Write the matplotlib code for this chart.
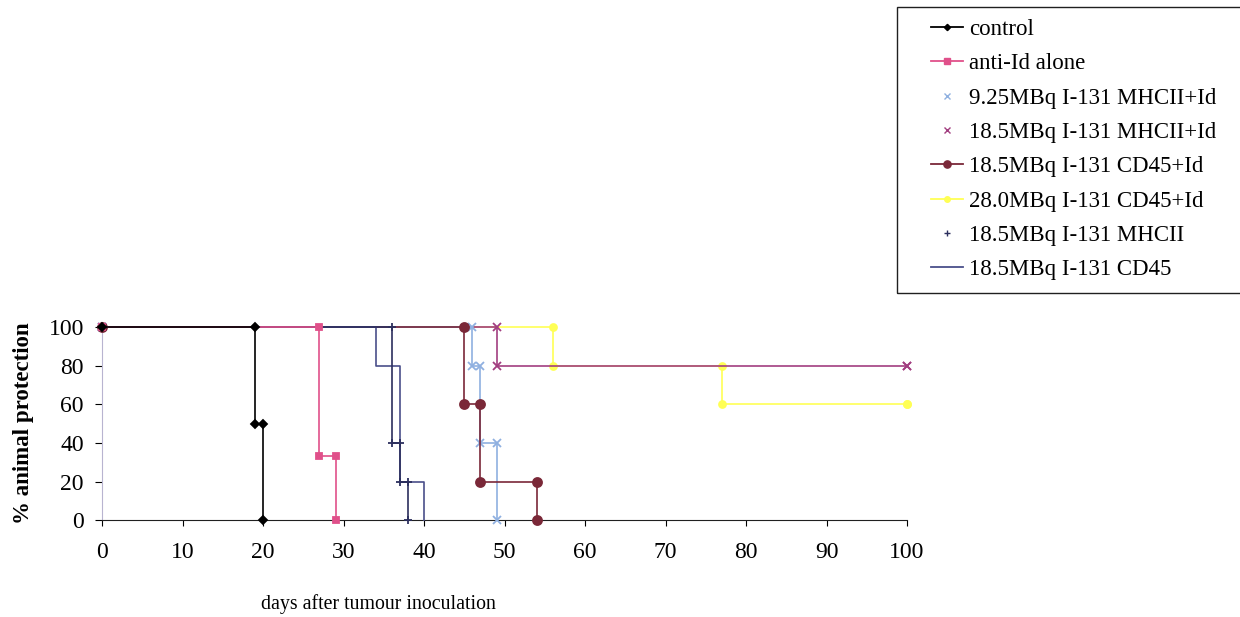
import numpy as np
import matplotlib
matplotlib.use("Agg")
import matplotlib.pyplot as plt
from matplotlib.lines import Line2D
from matplotlib.patches import Rectangle

plt.rcParams['font.family'] = ['Liberation Serif', 'DejaVu Serif']

# survival data: day of each event and % animals surviving after it
labels = ["control", "anti-Id alone", "9.25MBq I-131 MHCII+Id",
          "18.5MBq I-131 MHCII+Id", "18.5MBq I-131 CD45+Id",
          "28.0MBq I-131 CD45+Id", "18.5MBq I-131 MHCII", "18.5MBq I-131 CD45"]
control_days = [0, 19, 20]
control_surv = [100, 50, 0]
antiid_days = [0, 27, 29]
antiid_surv = [100, 33, 0]
mhc925_days = [0, 46, 47, 49]
mhc925_surv = [100, 80, 40, 0]
mhc185id_days = [0, 49, 100]
mhc185id_surv = [100, 80, 80]
cd185id_days = [0, 45, 47, 54]
cd185id_surv = [100, 60, 20, 0]
cd280id_days = [0, 56, 77, 100]
cd280id_surv = [100, 80, 60, 60]
mhc185_days = [0, 36, 37, 38]
mhc185_surv = [100, 40, 20, 0]
cd185_days = [0, 34, 37, 40]
cd185_surv = [100, 80, 20, 0]

series = [(control_days, control_surv), (antiid_days, antiid_surv),
          (mhc925_days, mhc925_surv), (mhc185id_days, mhc185id_surv),
          (cd185id_days, cd185id_surv), (cd280id_days, cd280id_surv),
          (mhc185_days, mhc185_surv), (cd185_days, cd185_surv)]

colors = ["#000000", "#e0508a", "#8fb0e0", "#a23e80", "#7a2838",
          "#ffff55", "#2c2f5e", "#4a4f8a"]
markers = ["D", "s", "x", "x", "o", "o", "+", None]
msizes = [4, 5, 6, 6, 6.5, 5, 6, 0]
leg_line = [True, True, False, False, True, True, False, True]


def km_corners(days, surv):
    # corner points of a Kaplan-Meier style step curve
    xs, ys = [days[0]], [surv[0]]
    for i in range(1, len(days)):
        xs += [days[i], days[i]]
        ys += [surv[i - 1], surv[i]]
    return np.array(xs), np.array(ys)


fig = plt.figure(figsize=(12.4, 6.17), dpi=100)
ax = fig.add_axes([0.0823, 0.157, 0.6492, 0.313])

order = [5, 3, 2, 4, 7, 6, 1, 0]
for i in order:
    d, s = series[i]
    x, y = km_corners(d, s)
    ax.plot(x, y, color=colors[i], lw=1.2, marker=markers[i],
            markersize=msizes[i], markeredgewidth=1.3, clip_on=False,
            zorder=3)

ax.set_xlim(0, 100)
ax.set_ylim(0, 100)
ax.set_xticks(np.arange(0, 101, 10))
ax.set_yticks(np.arange(0, 101, 20))
ax.tick_params(axis='x', direction='out', length=4, width=0.8, pad=12,
               labelsize=17)
ax.tick_params(axis='y', direction='out', length=5, width=0.8, pad=8,
               labelsize=17)
for side in ['top', 'right']:
    ax.spines[side].set_visible(False)
ax.spines['left'].set_color('#b8b4d0')
ax.spines['bottom'].set_color('#202020')

ax.set_ylabel("% animal protection", fontsize=16.5, fontweight='bold')
ax.yaxis.set_label_coords(-0.085, 0.5)
ax.set_xlabel("days after tumour inoculation", fontsize=14.3)
ax.xaxis.set_label_coords(0.343, -0.385)

# legend box runs off the right edge of the figure
fig.patches.append(Rectangle((897 / 1240, 1 - 293 / 617), 0.3, 286 / 617,
                             transform=fig.transFigure, fill=False,
                             edgecolor='#202020', lw=1.0))
handles = []
for i in range(len(labels)):
    handles.append(Line2D([], [], color=colors[i],
                          lw=1.3 if leg_line[i] else 0,
                          marker=markers[i], markersize=msizes[i] * 0.8))
leg = fig.legend(handles, labels, loc='upper left',
                 bbox_to_anchor=(924 / 1240, 1 - 12 / 617),
                 frameon=False, fontsize=16.5, handlelength=1.4,
                 handletextpad=0.25, labelspacing=0.58, borderpad=0.3,
                 borderaxespad=0)

fig.savefig("out.png", dpi=100)
